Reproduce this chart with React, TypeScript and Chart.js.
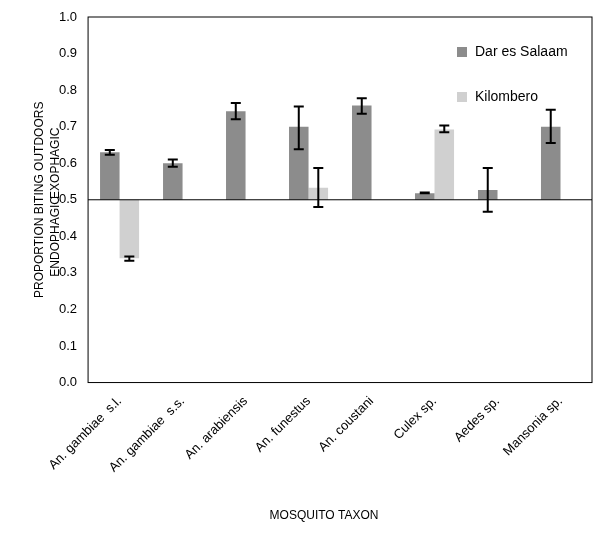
import { useEffect, useRef } from 'react';
import { Chart, registerables } from 'chart.js';

Chart.register(...registerables);

const taxa = ['An. gambiae  s.l.', 'An. gambiae  s.s.', 'An. arabiensis', 'An. funestus', 'An. coustani', 'Culex sp.', 'Aedes sp.', 'Mansonia sp.'];
const darValues = [0.63, 0.6, 0.742, 0.7, 0.758, 0.518, 0.527, 0.7];
const darLow = [0.623, 0.59, 0.72, 0.638, 0.735, 0.518, 0.467, 0.655];
const darHigh = [0.636, 0.61, 0.765, 0.755, 0.778, 0.52, 0.587, 0.746];
const kiloValues = [0.34, null, null, 0.533, null, 0.692, null, null];
const kiloLow = [0.333, null, null, 0.48, null, 0.685, null, null];
const kiloHigh = [0.345, null, null, 0.587, null, 0.703, null, null];
const yTicks = [0, 0.1, 0.2, 0.3, 0.4, 0.5, 0.6, 0.7, 0.8, 0.9, 1.0];

const FONT = 'Liberation Sans, Arial, sans-serif';

const extras = {
  id: 'extras',
  afterDatasetsDraw(chart: any) {
    const { ctx, chartArea: a, scales } = chart;
    const y = scales.y;
    ctx.save();
    // error bars
    ctx.strokeStyle = '#000';
    ctx.lineWidth = 2;
    [[darLow, darHigh, 0], [kiloLow, kiloHigh, 1]].forEach(([lo, hi, di]: any) => {
      const meta = chart.getDatasetMeta(di);
      lo.forEach((l: number | null, i: number) => {
        if (l == null) return;
        const x = meta.data[i].x;
        const y1 = y.getPixelForValue(l);
        const y2 = y.getPixelForValue(hi[i]);
        ctx.beginPath();
        ctx.moveTo(x, y1); ctx.lineTo(x, y2);
        ctx.moveTo(x - 5, y1); ctx.lineTo(x + 5, y1);
        ctx.moveTo(x - 5, y2); ctx.lineTo(x + 5, y2);
        ctx.stroke();
      });
    });
    // 0.5 line
    ctx.lineWidth = 1;
    const y5 = y.getPixelForValue(0.5);
    ctx.beginPath();
    ctx.moveTo(a.left, y5); ctx.lineTo(a.right, y5);
    ctx.stroke();
    // frame
    ctx.strokeRect(a.left, a.top, a.right - a.left, a.bottom - a.top);
    // legend
    ctx.fillStyle = '#8c8c8c';
    ctx.fillRect(a.right - 135, a.top + 30, 10, 10);
    ctx.fillStyle = '#d0d0d0';
    ctx.fillRect(a.right - 135, a.top + 75, 10, 10);
    ctx.fillStyle = '#000';
    ctx.font = `14px ${FONT}`;
    ctx.textBaseline = 'middle';
    ctx.fillText('Dar es Salaam', a.right - 117, a.top + 35);
    ctx.fillText('Kilombero', a.right - 117, a.top + 80);
    // axis side labels
    ctx.font = `12px ${FONT}`;
    ctx.textAlign = 'center';
    const side = (t: string, x: number, yy: number) => {
      ctx.save();
      ctx.translate(x, yy);
      ctx.rotate(-Math.PI / 2);
      ctx.fillText(t, 0, 0);
      ctx.restore();
    };
    side('PROPORTION BITING OUTDOORS', 40, y.getPixelForValue(0.5));
    side('EXOPHAGIC', 56, y.getPixelForValue(0.6));
    side('ENDOPHAGIC', 56, y.getPixelForValue(0.4));
    ctx.restore();
  },
};

export default function App() {
  const ref = useRef<HTMLCanvasElement>(null);

  useEffect(() => {
    if (!ref.current) return;
    const chart = new Chart(ref.current, {
      type: 'bar',
      data: {
        labels: taxa,
        datasets: [
          { label: 'Dar es Salaam', data: darValues.map((v) => [0.5, v]) as any, backgroundColor: '#8c8c8c' },
          { label: 'Kilombero', data: kiloValues.map((v) => (v == null ? null : [0.5, v])) as any, backgroundColor: '#d0d0d0' },
        ],
      },
      options: {
        animation: false,
        responsive: true,
        maintainAspectRatio: false,
        layout: { padding: { left: 56, right: 8, top: 17 } },
        datasets: { bar: { categoryPercentage: 0.62, barPercentage: 1 } },
        scales: {
          x: {
            grid: { display: false },
            border: { display: false },
            ticks: { color: '#000', font: { family: FONT, size: 13 }, maxRotation: 45, minRotation: 45 },
          },
          y: {
            min: 0,
            max: 1,
            grid: { display: false },
            border: { display: false },
            afterBuildTicks: (axis: any) => { axis.ticks = yTicks.map((v) => ({ value: v })); },
            ticks: { color: '#000', font: { family: FONT, size: 13 }, callback: (v: any) => Number(v).toFixed(1) },
          },
        },
        plugins: {
          legend: { display: false },
          tooltip: { enabled: false },
          title: {
            display: true,
            position: 'bottom',
            text: 'MOSQUITO TAXON',
            color: '#000',
            font: { family: FONT, size: 12, weight: 'normal' },
            padding: { top: 30, bottom: 10 },
          },
        },
      },
      plugins: [extras],
    });
    return () => chart.destroy();
  }, []);

  return (
    <div style={{ position: 'fixed', left: 0, top: 0, width: 600, height: 533, background: '#fff' }}>
      <canvas ref={ref} />
    </div>
  );
}
